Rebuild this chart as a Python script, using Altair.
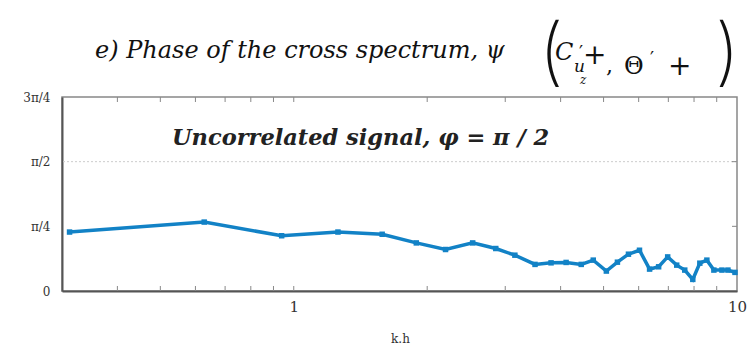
import math
import altair as alt
import pandas as pd

# Wavenumber k.h and phase of the cross spectrum (radians)
kh = [0.312, 0.628, 0.939, 1.258, 1.583, 1.890, 2.200, 2.533, 2.856, 3.154,
      3.502, 3.806, 4.116, 4.452, 4.739, 5.073, 5.373, 5.690, 6.026, 6.350,
      6.656, 6.976, 7.311, 7.623, 7.948, 8.244, 8.551, 8.868, 9.247, 9.541,
      9.896]
phase = [0.716, 0.837, 0.671, 0.716, 0.689, 0.584, 0.504, 0.584, 0.516, 0.435,
         0.323, 0.342, 0.347, 0.323, 0.375, 0.242, 0.350, 0.447, 0.495, 0.266,
         0.294, 0.414, 0.314, 0.254, 0.141, 0.338, 0.375, 0.254, 0.254, 0.254,
         0.226]

x_minor = [0.4, 0.5, 0.6, 0.7, 0.8, 0.9, 1, 2, 3, 4, 5, 6, 7, 8, 9]
y_ticks = [0, math.pi / 4, math.pi / 2, 3 * math.pi / 4]

W, H = 675, 194
SERIF = "DejaVu Serif"
THIN = "Inter"
BLUE = "#1282c6"

df = pd.DataFrame({"kh": kh, "phi": phase})
xscale = alt.Scale(type="log", domain=[0.3, 10])
yscale = alt.Scale(domain=[0, 3 * math.pi / 4])

x_enc = alt.X("kh:Q", scale=xscale,
              axis=alt.Axis(values=[1, 10], format="~g", ticks=False, grid=False,
                            title="k.h", titleFont=SERIF, titleFontSize=12,
                            titleFontWeight="normal", titleColor="#333",
                            titleX=338, titleY=42, labelFont=SERIF,
                            labelFontSize=15, labelColor="#333", labelPadding=8,
                            labelFlush=False, domainColor="#555", domainWidth=2))
y_enc = alt.Y("phi:Q", scale=yscale,
              axis=alt.Axis(values=y_ticks, ticks=False, grid=False, title=None,
                            labelExpr="['0','π/4','π/2','3π/4'][round(datum.value/(PI/4))]",
                            labelFont=SERIF, labelFontSize=12, labelColor="#333",
                            labelPadding=12, domainColor="#555", domainWidth=2))

line = alt.Chart(df).mark_line(
    color=BLUE, strokeWidth=3.5,
    point=alt.OverlayMarkDef(filled=True, size=30, color=BLUE, shape="square"),
).encode(x=x_enc, y=y_enc)

# reference level of an uncorrelated signal
ref = alt.Chart(pd.DataFrame({"phi": [math.pi / 2]})).mark_rule(
    color="#cccccc", strokeDash=[2, 2], strokeWidth=1
).encode(y=alt.Y("phi:Q", scale=yscale))

tick_df = pd.DataFrame({"kh": x_minor})
ticks_bottom = alt.Chart(tick_df).mark_rule(color="#888", strokeWidth=1).encode(
    x=alt.X("kh:Q", scale=xscale), y=alt.value(H), y2=alt.value(H - 5))
ticks_top = alt.Chart(tick_df).mark_rule(color="#888", strokeWidth=1).encode(
    x=alt.X("kh:Q", scale=xscale), y=alt.value(0), y2=alt.value(5))
ticks_right = alt.Chart(pd.DataFrame({"phi": y_ticks[1:3]})).mark_rule(
    color="#888", strokeWidth=1).encode(
    y=alt.Y("phi:Q", scale=yscale), x=alt.value(W), x2=alt.value(W - 5))

note = alt.Chart(pd.DataFrame({"t": ["Uncorrelated signal, φ = π / 2"]})).mark_text(
    font=SERIF, fontSize=22.5, fontStyle="italic", fontWeight="bold", align="left",
    baseline="middle", color="#222").encode(text="t:N", x=alt.value(110), y=alt.value(41))


def label(text, x, y, size, style="italic", baseline="alphabetic", font=SERIF,
          weight="normal"):
    return alt.Chart(pd.DataFrame({"t": [text]})).mark_text(
        font=font, fontSize=size, fontStyle=style, fontWeight=weight, align="left",
        baseline=baseline, color="#111").encode(
        text="t:N", x=alt.value(x), y=alt.value(y))


title_parts = [
    label("e) Phase of the cross spectrum, ψ", 33, -39, 24),
    label("(", 477, -42, 74, "normal", "middle", THIN, 200),
    label("C", 493, -37, 24),
    label("′", 517, -38, 18, "normal"),
    label("+", 521, -33, 28, "normal"),
    label("u", 512, -25, 17),
    label("z", 518, -13, 12),
    label(",", 544, -24, 22, "normal"),
    label("Θ", 562, -23, 24, "normal"),
    label("′", 588, -32, 18, "normal"),
    label("+", 606, -22, 28, "normal"),
    label(")", 653, -42, 74, "normal", "middle", THIN, 200),
]

chart = alt.layer(ref, ticks_bottom, ticks_top, ticks_right, line, note,
                  *title_parts).properties(
    width=W, height=H,
    autosize=alt.AutoSizeParams(type="none"),
    padding={"left": 62, "top": 97, "right": 14, "bottom": 58},
).configure_view(stroke="#888", strokeWidth=1.5)

chart.save("out.html", embed_options={"renderer": "svg", "actions": False})
